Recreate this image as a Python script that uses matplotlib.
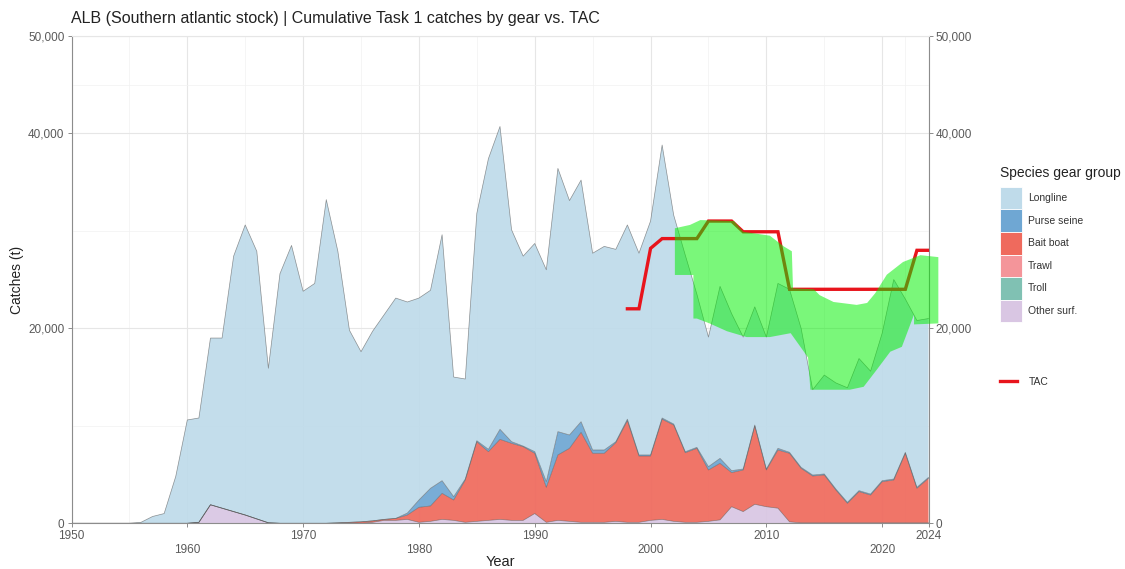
import numpy as np
import matplotlib
matplotlib.use("Agg")
import matplotlib.pyplot as plt
from matplotlib.patches import Patch
from matplotlib.lines import Line2D
from matplotlib.ticker import FuncFormatter

plt.rcParams['font.family'] = ['Liberation Sans', 'DejaVu Sans']

years = list(range(1950, 2025))

longline = [0, 0, 0, 0, 0, 0, 100, 700, 1000, 4800,
            10600, 10700, 17100, 17450, 26200, 29750, 27450, 15850, 25600, 28500,
            23800, 24600, 33200, 27850, 19700, 17450, 19450, 21000, 22600, 21650,
            20710, 20310, 25230, 12270, 10260, 23330, 29810, 31060, 21730, 19480,
            21350, 21730, 27000, 24040, 24780, 20180, 20880, 19730, 19920, 20690,
            23990, 28000, 21420, 20160, 15710, 13290, 17640, 16100, 13530, 12120,
            13530, 16910, 16720, 14260, 8750, 10140, 10880, 11750, 13550, 12600,
            15130, 20460, 15720, 17110, 16290]

purse_seine = [0, 0, 0, 0, 0, 0, 0, 0, 0, 0,
               0, 0, 0, 0, 0, 0, 0, 0, 0, 0,
               0, 0, 0, 0, 0, 0, 0, 0, 0, 200,
               750, 1810, 1300, 340, 100, 100, 240, 1030, 170, 60,
               170, 580, 2390, 1370, 1090, 340, 340, 100, 150, 110,
               110, 120, 100, 100, 100, 340, 510, 200, 100, 100,
               100, 170, 100, 100, 100, 100, 100, 100, 100, 100,
               100, 100, 100, 100, 100]

bait_boat = [0, 0, 0, 0, 0, 0, 0, 0, 0, 0,
             0, 0, 0, 0, 0, 0, 0, 0, 0, 0,
             0, 0, 0, 50, 100, 150, 150, 100, 200, 450,
             1540, 1580, 2670, 2090, 4340, 8170, 7050, 8210, 7900, 7560,
             6180, 3590, 6710, 7490, 9230, 7080, 7080, 8070, 10430, 6800,
             6600, 10280, 9880, 7140, 7590, 5270, 5800, 3500, 4270, 8030,
             3770, 5970, 7030, 5590, 4800, 4910, 3370, 2000, 3200, 2850,
             4220, 4390, 7130, 3540, 4560]

trawl = [0, 0, 0, 0, 0, 0, 0, 0, 0, 0,
         0, 0, 0, 0, 0, 0, 0, 0, 0, 0,
         0, 0, 0, 0, 0, 0, 0, 0, 0, 0,
         0, 0, 0, 0, 0, 0, 0, 0, 0, 0,
         0, 0, 0, 0, 0, 0, 0, 0, 0, 0,
         0, 0, 0, 0, 0, 0, 0, 0, 0, 0,
         0, 0, 0, 0, 0, 0, 0, 0, 0, 0,
         0, 0, 0, 0, 0]

troll = [0, 0, 0, 0, 0, 0, 0, 0, 0, 0,
         0, 0, 0, 0, 0, 0, 0, 0, 0, 0,
         0, 0, 0, 0, 0, 0, 0, 0, 0, 0,
         0, 0, 0, 0, 0, 0, 0, 0, 0, 0,
         0, 0, 0, 0, 0, 0, 0, 0, 0, 0,
         0, 0, 0, 0, 0, 0, 0, 0, 0, 0,
         0, 0, 0, 0, 0, 0, 0, 0, 0, 0,
         0, 0, 0, 0, 0]

other_surf = [0, 0, 0, 0, 0, 0, 0, 0, 0, 0,
              0, 100, 1900, 1550, 1200, 850, 450, 50, 0, 0,
              0, 0, 0, 0, 0, 0, 100, 300, 300, 400,
              100, 200, 400, 300, 100, 200, 300, 400, 300, 300,
              1000, 100, 300, 200, 100, 100, 100, 200, 100, 100,
              300, 400, 200, 100, 100, 200, 350, 1700, 1200, 1950,
              1700, 1550, 150, 50, 50, 50, 50, 50, 50, 50,
              50, 50, 50, 50, 50]

tac_years = [1998, 1999, 2000, 2001, 2002, 2003, 2004, 2005, 2006, 2007,
             2008, 2009, 2010, 2011, 2012, 2013, 2014, 2015, 2016, 2017,
             2018, 2019, 2020, 2021, 2022, 2023, 2024]
tac = [22000, 22000, 28200, 29200, 29200, 29200, 29200, 31000, 31000, 31000,
       29900, 29900, 29900, 29900, 24000, 24000, 24000, 24000, 24000, 24000,
       24000, 24000, 24000, 24000, 24000, 28000, 28000]

# green highlighted band (outline in data units)
band_x = [2002.1, 2002.1, 2003.4, 2004.3, 2007.2, 2008.0, 2010.3, 2011.5, 2012.2,
          2012.3, 2014.1, 2014.6, 2015.8, 2017.8, 2018.7, 2019.4, 2020.4, 2021.8,
          2023.3, 2024.85, 2024.85, 2022.75, 2022.75, 2021.7, 2020.7, 2019.5,
          2018.4, 2017.2, 2013.8, 2013.6, 2012.1, 2010.3, 2008.3, 2006.6, 2005.1,
          2004.0, 2003.7, 2003.7]
band_y = [25470, 30260, 30600, 31100, 31000, 29900, 29500, 28400, 27900,
          24100, 24000, 23400, 22700, 22400, 22600, 23600, 25500, 26800,
          27500, 27300, 20500, 20400, 21400, 18100, 17600, 15700,
          14000, 13700, 13700, 17000, 19500, 19100, 19100, 19700, 20500,
          21000, 21000, 25470]

gear_labels = ["Longline", "Purse seine", "Bait boat", "Trawl", "Troll", "Other surf."]
gear_colors = ["#BFDBEA", "#6FA7D3", "#EF6A5D", "#F4959A", "#80C1B3", "#D9C6E3"]
gear_values = [longline, purse_seine, bait_boat, trawl, troll, other_surf]

W, H = 1125, 569
fig = plt.figure(figsize=(W / 100, H / 100), dpi=100)
L, R, T, B = 71.5, 928.5, 35.8, 523.3
ax = fig.add_axes([L / W, 1 - B / H, (R - L) / W, (B - T) / H])

x = np.array(years, dtype=float)
base = np.zeros(len(years))
for lab, col, vals in list(zip(gear_labels, gear_colors, gear_values))[::-1]:
    v = np.array(vals, dtype=float)
    top = base + v
    if v.sum() > 0:
        ax.fill_between(x, base, top, facecolor=col, edgecolor='none', alpha=0.93, zorder=2)
        ax.plot(x, top, color='#505050', lw=0.5, alpha=0.6, zorder=3)
    base = top

ax.plot(tac_years, tac, color='#E8141C', lw=2.4, zorder=4, solid_joinstyle='miter')
ax.fill(band_x, band_y, color='#00F000', alpha=0.52, lw=0, zorder=5, clip_on=False)

ax.set_xlim(1950, 2024)
ax.set_ylim(0, 50000)

xt = [1950, 1960, 1970, 1980, 1990, 2000, 2010, 2020, 2024]
xl = ["1950", "\n1960", "1970", "\n1980", "1990", "\n2000", "2010", "\n2020", "2024"]
ax.set_xticks(xt)
ax.set_xticklabels(xl)
ax.set_xticks([1955, 1965, 1975, 1985, 1995, 2005, 2015, 2022], minor=True)
yt = [0, 20000, 40000, 50000]
ax.set_yticks(yt)
ax.yaxis.set_major_formatter(FuncFormatter(lambda v, p: f"{int(v):,}"))
ax.set_yticks([10000, 30000, 45000], minor=True)

ax.set_axisbelow(True)
ax.grid(which='major', color='#E6E6E6', lw=0.8, zorder=0)
ax.grid(which='minor', color='#F2F2F2', lw=0.5, zorder=0)

for s in ['left', 'bottom', 'right']:
    ax.spines[s].set_color('#8C8C8C')
    ax.spines[s].set_linewidth(0.8)
ax.spines['top'].set_color('#E6E6E6')
ax.spines['top'].set_linewidth(0.8)

ax.tick_params(which='major', axis='both', length=3, width=0.7, color='#8C8C8C',
               labelsize=8.5, labelcolor='#5A5A5A', pad=2)
ax.tick_params(which='major', axis='y', right=True, labelright=True)
ax.tick_params(which='minor', length=0)

ax.set_xlabel("Year", fontsize=10.5, color='#222222', labelpad=-1)
ax.set_ylabel("Catches (t)", fontsize=10, color='#222222', labelpad=3)
fig.text(71 / W, 1 - 19 / H, "ALB (Southern atlantic stock) | Cumulative Task 1 catches by gear vs. TAC",
         fontsize=11.5, color='#222222', ha='left', va='center')

handles = [Patch(facecolor=c, edgecolor='white', lw=0.6) for c in gear_colors]
leg1 = fig.legend(handles, gear_labels, loc='upper left', bbox_to_anchor=(1000 / W, 1 - 166 / H),
                  title="Species gear group", frameon=False, fontsize=7.5, title_fontsize=10,
                  handlelength=2.1, handleheight=2.95, labelspacing=0.0, handletextpad=0.6,
                  borderpad=0, borderaxespad=0, alignment='left')
leg1._legend_box.sep = 5
leg1.get_title().set_color('#222222')
for t in leg1.get_texts():
    t.set_color('#333333')

leg2 = fig.legend([Line2D([0], [0], color='#E8141C', lw=2.4)], ["TAC"], loc='upper left',
                  bbox_to_anchor=(1000 / W, 1 - 377 / H), frameon=False, fontsize=7.5,
                  handlelength=1.6, handletextpad=1.2, borderpad=0, borderaxespad=0)
for t in leg2.get_texts():
    t.set_color('#333333')

fig.savefig("out.png", dpi=100)
